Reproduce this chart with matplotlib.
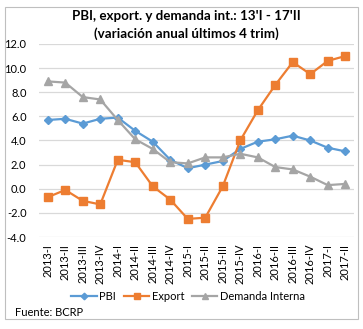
import matplotlib
matplotlib.use('Agg')
import matplotlib.pyplot as plt
from matplotlib.patches import Rectangle

plt.rcParams['font.family'] = ['Lato', 'DejaVu Sans']

quarters = ['2013-I', '2013-II', '2013-III', '2013-IV',
            '2014-I', '2014-II', '2014-III', '2014-IV',
            '2015-I', '2015-II', '2015-III', '2015-IV',
            '2016-I', '2016-II', '2016-III', '2016-IV',
            '2017-I', '2017-II']
pbi = [5.7, 5.8, 5.4, 5.8, 5.9, 4.8, 3.9, 2.4, 1.7, 2.0, 2.3, 3.3,
       3.9, 4.1, 4.4, 4.0, 3.4, 3.1]
export = [-0.7, -0.1, -1.0, -1.3, 2.4, 2.2, 0.2, -0.9, -2.5, -2.4, 0.2, 4.0,
          6.5, 8.6, 10.5, 9.5, 10.6, 11.0]
demanda = [8.9, 8.8, 7.6, 7.4, 5.7, 4.1, 3.3, 2.2, 2.1, 2.6, 2.6, 2.9,
           2.6, 1.8, 1.6, 1.0, 0.3, 0.4]

W, H = 363, 329
fig = plt.figure(figsize=(W / 100, H / 100), dpi=100)
ax = fig.add_axes([39 / W, 1 - 237 / H, (354 - 39) / W, (237 - 44) / H])

x = range(len(quarters))
ax.plot(x, pbi, color='#5B9BD5', lw=1.6, marker='D', ms=4.2, label='PBI')
ax.plot(x, export, color='#ED7D31', lw=1.6, marker='s', ms=5.5, label='Export')
ax.plot(x, demanda, color='#A5A5A5', lw=1.6, marker='^', ms=5.5, label='Demanda Interna')

ax.set_xlim(-0.5, len(quarters) - 0.5)
ax.set_ylim(-4, 12)
ax.set_yticks(range(-4, 13, 2))
ax.set_yticklabels(['%.1f' % v for v in range(-4, 13, 2)], fontsize=8)
ax.set_xticks(list(x))
ax.set_xticklabels(quarters, rotation=90, fontsize=8)
ax.tick_params(length=0)
ax.tick_params(axis='y', pad=9)
ax.tick_params(axis='x', pad=5)
for s in ax.spines.values():
    s.set_visible(False)
ax.grid(axis='y', color='#D9D9D9', lw=0.9)
ax.set_axisbelow(True)

fig.text(186 / W, 1 - 16 / H, "PBI, export. y demanda int.: 13'I - 17'II",
         ha='center', va='center', fontsize=9.6, fontweight='bold')
fig.text(186 / W, 1 - 34 / H, "(variación anual últimos 4 trim)",
         ha='center', va='center', fontsize=9.6, fontweight='bold')

fig.legend(loc='center', bbox_to_anchor=(188 / W, 1 - 296 / H), ncol=3,
           frameon=False, fontsize=8, handlelength=2.3, columnspacing=0.7,
           handletextpad=0.2, markerscale=0.8, borderaxespad=0, borderpad=0)
fig.text(15 / W, 1 - 313 / H, 'Fuente: BCRP', ha='left', va='center', fontsize=8)

fig.patches.append(Rectangle((5 / W, 1 - 319 / H), (358 - 5) / W, (319 - 7) / H,
                             transform=fig.transFigure, fill=False,
                             edgecolor='#BFBFBF', lw=0.8))

fig.savefig('out.png', dpi=100)
